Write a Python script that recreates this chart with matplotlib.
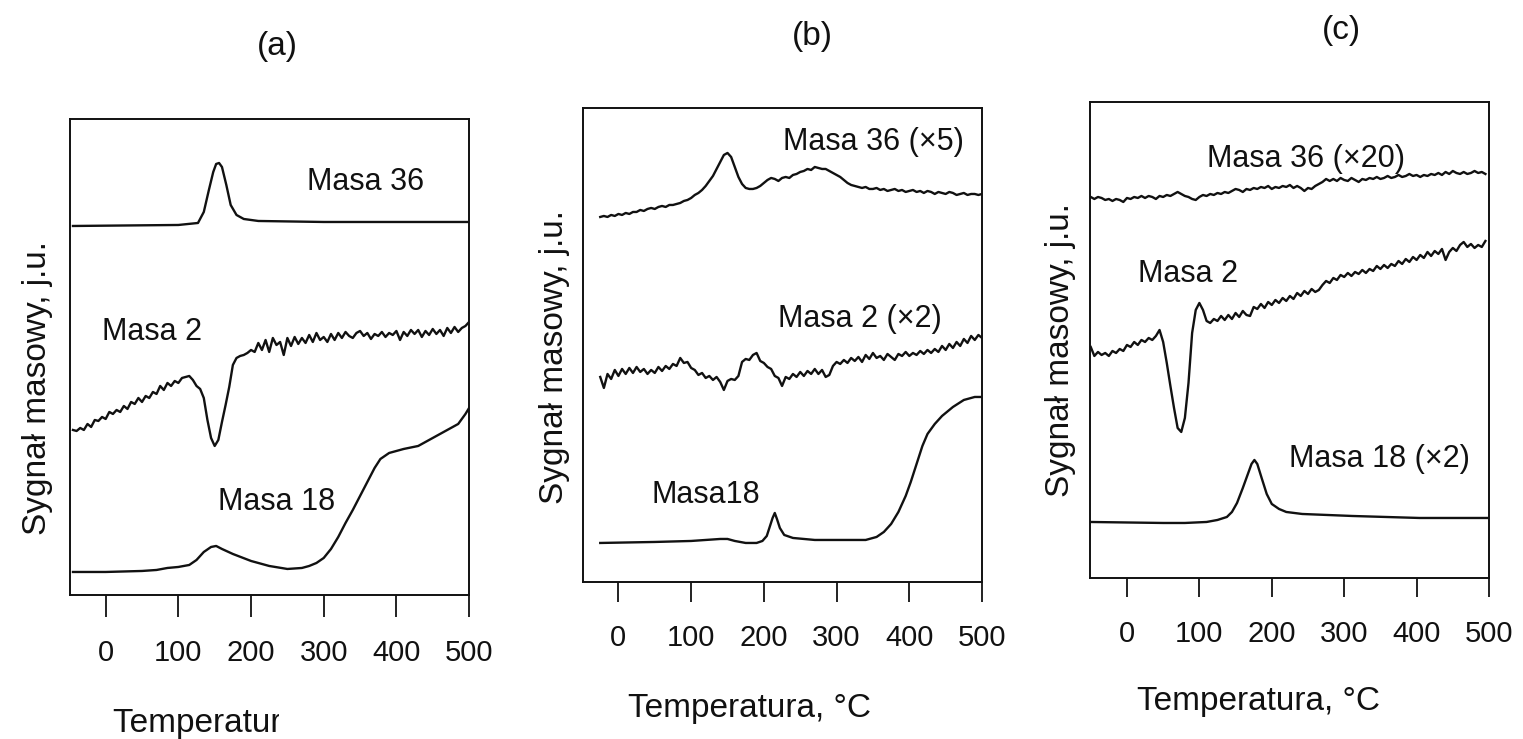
import numpy as np
import matplotlib
matplotlib.use('Agg')
import matplotlib.pyplot as plt
from matplotlib.transforms import Bbox, TransformedBbox

plt.rcParams['font.family'] = ['Liberation Sans', 'DejaVu Sans']

temp_ticks = [0, 100, 200, 300, 400, 500]
ink = '#111111'

# ---- panel (a) ----  (signal in arbitrary units)
a_m36_t = [-45, 100, 127, 135, 142, 148, 152, 156, 160, 166, 172, 180, 190, 210, 300, 500]
a_m36_y = [369, 370, 372, 383, 405, 423, 431, 432, 428, 410, 390, 380, 376, 374, 373, 373]

a_m2_t = np.arange(-45, 501, 5)
a_m2_y = [165, 164, 167, 165, 171, 168, 175, 174, 178, 176,
          183, 181, 185, 183, 189, 186, 193, 191, 197, 193,
          199, 197, 203, 201, 209, 205, 212, 209, 214, 212,
          217, 218, 219, 215, 209, 206, 197, 175, 157, 149,
          155, 173, 190, 208, 230, 237, 239, 240, 242, 245,
          243, 252, 245, 255, 243, 257, 250, 253, 240, 257,
          249, 258, 251, 257, 252, 260, 253, 262, 255, 258,
          253, 261, 255, 262, 257, 263, 259, 257, 262, 264,
          259, 262, 256, 261, 259, 263, 258, 262, 260, 264,
          255, 263, 259, 265, 261, 265, 258, 264, 260, 266,
          261, 265, 259, 267, 262, 268, 263, 267, 269, 273]

a_m18_t = [-45, 0, 50, 70, 85, 100, 115, 125, 135, 145, 152, 160, 175, 200, 225, 250,
           270, 280, 290, 300, 310, 320, 330, 340, 350, 360, 370, 378, 390, 410, 430,
           450, 470, 485, 495, 500]
a_m18_y = [23, 23, 24, 25, 27, 28, 30, 35, 43, 48, 49, 46, 41, 34, 29, 26,
           27, 29, 32, 37, 46, 58, 72, 85, 99, 113, 127, 136, 142, 146, 149,
           157, 165, 171, 181, 187]

# ---- panel (b) ----
b_m36_t = np.arange(-25, 501, 5)
b_m36_y = [365, 366, 365, 367, 366, 368, 367, 369, 368, 370,
           370, 372, 371, 373, 374, 373, 375, 376, 375, 377,
           377, 378, 379, 381, 382, 384, 387, 389, 392, 396,
           401, 406, 413, 420, 427, 429, 425, 415, 405, 398,
           394, 393, 393, 394, 396, 399, 402, 404, 403, 401,
           404, 405, 404, 407, 408, 410, 411, 413, 412, 415,
           414, 413, 413, 411, 409, 407, 405, 402, 399, 397,
           396, 395, 394, 395, 393, 393, 394, 392, 393, 391,
           392, 393, 391, 392, 390, 391, 392, 390, 391, 389,
           391, 390, 388, 390, 389, 388, 390, 389, 387, 388,
           389, 387, 388, 388, 387, 388]

b_m2_t = np.arange(-25, 501, 5)
b_m2_y = [205, 194, 208, 203, 212, 206, 213, 208, 214, 209,
          215, 210, 213, 208, 212, 209, 215, 211, 216, 213,
          218, 216, 224, 219, 220, 214, 212, 207, 209, 204,
          206, 202, 205, 200, 192, 201, 203, 202, 206, 220,
          223, 222, 227, 229, 221, 219, 215, 213, 206, 204,
          196, 205, 203, 208, 205, 210, 206, 211, 208, 213,
          208, 212, 205, 207, 216, 220, 218, 222, 219, 224,
          221, 225, 220, 227, 223, 229, 224, 226, 222, 228,
          225, 222, 228, 226, 230, 226, 229, 227, 231, 228,
          232, 229, 233, 230, 236, 232, 238, 234, 240, 236,
          243, 239, 246, 242, 247, 244]

b_m18_t = [-25, 50, 100, 140, 150, 160, 175, 190, 198, 204, 208, 212, 215, 218, 222,
           228, 240, 270, 300, 340, 355, 365, 375, 385, 395, 402, 410, 418, 425, 435,
           445, 460, 475, 490, 500]
b_m18_y = [39, 40, 41, 43, 43, 41, 39, 39, 41, 46, 55, 64, 69, 63, 54,
           47, 44, 42, 42, 42, 45, 50, 58, 70, 86, 100, 118, 136, 148, 158,
           166, 175, 182, 185, 185]

# ---- panel (c) ----
c_m36_t = np.arange(-50, 496, 5)
c_m36_y = [381, 379, 381, 380, 378, 379, 377, 379, 378, 376,
           380, 379, 381, 380, 382, 380, 382, 381, 379, 382,
           381, 383, 382, 384, 386, 384, 382, 381, 379, 378,
           381, 383, 382, 384, 383, 385, 384, 386, 385, 387,
           389, 388, 386, 389, 388, 390, 389, 391, 390, 392,
           389, 391, 390, 392, 391, 393, 390, 392, 390, 387,
           390, 389, 392, 394, 396, 399, 397, 399, 397, 400,
           398, 397, 400, 398, 396, 399, 398, 400, 399, 401,
           399, 400, 402, 400, 401, 403, 401, 402, 404, 402,
           403, 401, 403, 402, 404, 403, 405, 403, 406, 404,
           407, 405, 404, 406, 404, 405, 407, 405, 406, 404]

c_m2_t = np.arange(-50, 496, 5)
c_m2_y = [231, 222, 226, 223, 225, 222, 227, 225, 229, 227,
          233, 231, 236, 233, 238, 236, 240, 238, 242, 248,
          236, 215, 192, 170, 150, 146, 160, 195, 245, 268,
          275, 268, 257, 255, 259, 257, 262, 258, 263, 259,
          265, 261, 267, 263, 262, 271, 269, 274, 270, 276,
          273, 278, 275, 280, 277, 282, 279, 285, 282, 287,
          284, 289, 286, 288, 293, 297, 295, 300, 298, 303,
          301, 305, 302, 306, 304, 308, 305, 309, 307, 312,
          309, 313, 310, 314, 312, 317, 314, 319, 316, 321,
          318, 323, 320, 326, 322, 327, 324, 329, 318, 326,
          330, 327, 333, 336, 331, 334, 330, 333, 331, 337]

c_m18_t = [-51, 50, 80, 110, 125, 138, 145, 152, 160, 167, 172, 176, 180, 186, 193,
           200, 210, 220, 242, 311, 404, 498]
c_m18_y = [56, 55, 55, 56, 58, 61, 66, 75, 90, 104, 114, 118, 114, 100, 84,
           74, 69, 66, 64, 62, 60, 60]

panels = [
    dict(rect=[0.0460, 0.1949, 0.2620, 0.6441], xlim=(-49, 500), ylim=(0, 476), tick_len=16,
         curves=[(a_m36_t, a_m36_y), (a_m2_t, a_m2_y), (a_m18_t, a_m18_y)],
         labels=[(277, 405, 'Masa 36'), (-5, 255, 'Masa 2'), (154, 85, 'Masa 18')]),
    dict(rect=[0.3828, 0.2125, 0.2620, 0.6414], xlim=(-48.7, 499.5), ylim=(0, 474), tick_len=14.5,
         curves=[(b_m36_t, b_m36_y), (b_m2_t, b_m2_y), (b_m18_t, b_m18_y)],
         labels=[(226, 432, 'Masa 36 (\u00d75)'), (219, 255, 'Masa 2 (\u00d72)'), (46, 79, 'Masa18')]),
    dict(rect=[0.7157, 0.2179, 0.2620, 0.6441], xlim=(-51, 498.6), ylim=(0, 476), tick_len=14,
         curves=[(c_m36_t, c_m36_y), (c_m2_t, c_m2_y), (c_m18_t, c_m18_y)],
         labels=[(110, 411, 'Masa 36 (\u00d720)'), (15, 296, 'Masa 2'), (224, 111, 'Masa 18 (\u00d72)')]),
]

W, H = 1523, 739
fig = plt.figure(figsize=(W / 100, H / 100), dpi=100)

for p in panels:
    ax = fig.add_axes(p['rect'])
    for t, y in p['curves']:
        ax.plot(t, y, color=ink, lw=1.7, solid_joinstyle='round')
    for tx, ty, s in p['labels']:
        ax.text(tx, ty, s, fontsize=22, ha='left', va='baseline', color=ink)
    ax.set_xlim(*p['xlim'])
    ax.set_ylim(*p['ylim'])
    ax.set_xticks(temp_ticks)
    ax.set_yticks([])
    ax.tick_params(axis='x', direction='out', length=p['tick_len'], width=1.3,
                   pad=16, labelsize=21, colors=ink)
    for sp in ax.spines.values():
        sp.set_linewidth(1.4)
        sp.set_color(ink)

# panel titles
for px, py, s in [(277, 46, '(a)'), (812, 37, '(b)'), (1341, 31, '(c)')]:
    fig.text(px / W, 1 - py / H, s, fontsize=24, ha='center', va='center', color=ink)

# y labels
for px, py in [(38, 388), (555, 357), (1060, 350)]:
    fig.text(px / W, 1 - py / H, 'Sygna\u0142 masowy, j.u.', fontsize=24, rotation=90,
             ha='center', va='center', color=ink)

# x labels; the first one is cut off in the original
xa = fig.text(113 / W, 1 - 732 / H, 'Temperatura, \u00b0C', fontsize=24, ha='left',
              va='baseline', color=ink)
xa.set_clip_box(TransformedBbox(Bbox([[0, 0], [279 / W, 1]]), fig.transFigure))
xa.set_clip_on(True)
fig.text(628 / W, 1 - 717 / H, 'Temperatura, \u00b0C', fontsize=24, ha='left',
         va='baseline', color=ink)
fig.text(1137 / W, 1 - 710 / H, 'Temperatura, \u00b0C', fontsize=24, ha='left',
         va='baseline', color=ink)

fig.savefig('out.png', dpi=100, facecolor='white')
